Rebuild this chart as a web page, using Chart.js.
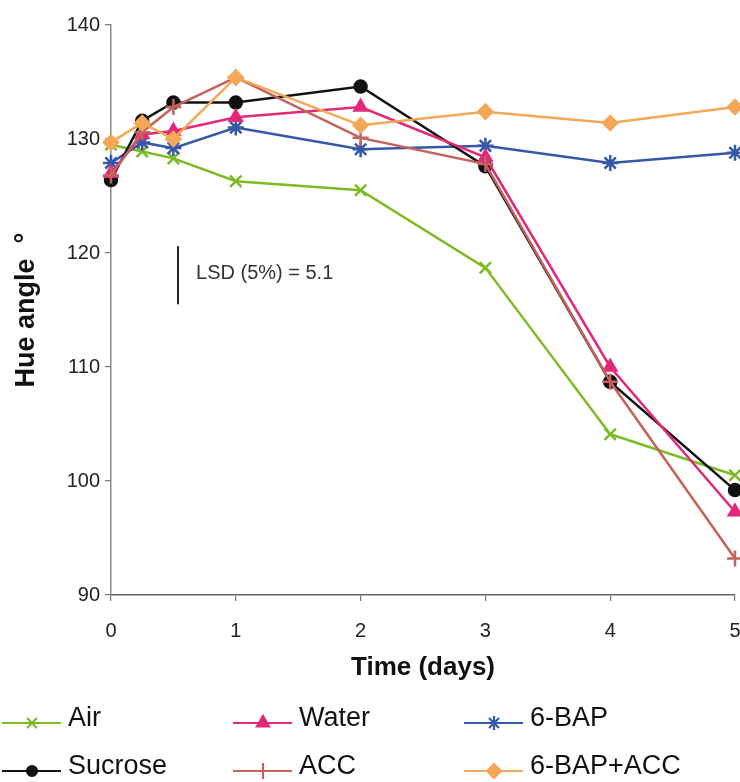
<!DOCTYPE html>
<html>
<head>
<meta charset="utf-8">
<script src="https://cdn.jsdelivr.net/npm/chart.js@4/dist/chart.umd.min.js"></script>
<style>
  html, body { margin: 0; padding: 0; background: #fff; }
  #wrap { width: 740px; height: 782px; position: relative; }
</style>
</head>
<body>
<div id="wrap"><canvas id="c" width="740" height="782"></canvas></div>
<script>
// Sampling times (days) and hue angle readings per treatment
const days = [0, 0.25, 0.5, 1, 2, 3, 4, 5];
const air = [129.5, 128.9, 128.3, 126.3, 125.5, 118.7, 104.1, 100.5];
const water = [127.0, 130.4, 130.7, 131.9, 132.8, 128.4, 110.0, 97.3];
const bap = [127.9, 129.7, 129.2, 131.0, 129.1, 129.4, 127.9, 128.8];
const sucrose = [126.4, 131.6, 133.2, 133.2, 134.6, 127.6, 108.7, 99.2];
const acc = [126.8, 130.6, 132.8, 135.4, 130.1, 127.8, 108.7, 93.2];
const bapAcc = [129.7, 131.4, 130.0, 135.4, 131.2, 132.4, 131.4, 132.8];

// LSD bar: position on the time axis, centre and length in hue units
const lsdDay = 0.537;
const lsdCentre = 118.05;
const lsdValue = 5.1;
const lsdLabel = 'LSD (5%) = 5.1';

const yTicks = [90, 100, 110, 120, 130, 140];
const xTicks = [0, 1, 2, 3, 4, 5];

const pts = arr => days.map((d, i) => ({ x: d, y: arr[i] }));

const series = [
  { key: 'bapAcc', label: '6-BAP+ACC', data: bapAcc, color: '#F4A857', style: 'rectRot', r: 7, lr: 7 },
  { key: 'acc', label: 'ACC', data: acc, color: '#C4635B', style: 'cross', r: 8, lr: 8 },
  { key: 'water', label: 'Water', data: water, color: '#E2287A', style: 'triangle', r: 7, lr: 7 },
  { key: 'sucrose', label: 'Sucrose', data: sucrose, color: '#111111', style: 'circle', r: 6, lr: 5 },
  { key: 'bap', label: '6-BAP', data: bap, color: '#3558A8', style: 'star', r: 8, lr: 7 },
  { key: 'air', label: 'Air', data: air, color: '#7CBB22', style: 'crossRot', r: 8, lr: 7 }
];

const datasets = series.map(s => ({
  label: s.label,
  data: pts(s.data),
  borderColor: s.color,
  backgroundColor: s.color,
  borderWidth: 2.5,
  pointStyle: s.style,
  pointRadius: s.r,
  pointBorderWidth: 2.5,
  pointBackgroundColor: s.color,
  pointBorderColor: s.color,
  tension: 0,
  clip: 10
}));

datasets.push({
  label: 'LSD',
  data: [{ x: lsdDay, y: lsdCentre - lsdValue / 2 }, { x: lsdDay, y: lsdCentre + lsdValue / 2 }],
  borderColor: '#222',
  borderWidth: 2,
  pointRadius: 0,
  tension: 0
});

// Legend layout: two rows of three entries under the axis
const legendOrder = ['air', 'water', 'bap', 'sucrose', 'acc', 'bapAcc'];
const legendCols = [2, 233, 464];
const legendRows = [723, 771];

const extras = {
  id: 'extras',
  afterDraw(chart) {
    const ctx = chart.ctx;
    const xs = chart.scales.x, ys = chart.scales.y;
    // LSD caption
    ctx.save();
    ctx.fillStyle = '#333';
    ctx.font = '20px "Liberation Sans", Arial, sans-serif';
    ctx.textBaseline = 'middle';
    ctx.textAlign = 'left';
    ctx.fillText(lsdLabel, xs.getPixelForValue(lsdDay) + 18, ys.getPixelForValue(lsdCentre) - 2);
    ctx.restore();

    // legend entries
    legendOrder.forEach((key, i) => {
      const s = series.find(v => v.key === key);
      const x0 = legendCols[i % 3];
      const y = legendRows[Math.floor(i / 3)];
      ctx.save();
      ctx.strokeStyle = s.color;
      ctx.fillStyle = s.color;
      ctx.lineWidth = 2.2;
      ctx.beginPath();
      ctx.moveTo(x0, y);
      ctx.lineTo(x0 + 59, y);
      ctx.stroke();
      Chart.helpers.drawPoint(ctx, { pointStyle: s.style, radius: s.lr, rotation: 0, borderWidth: 2.2 }, x0 + 30, y);
      ctx.fillStyle = '#111';
      ctx.font = '27px "Liberation Sans", Arial, sans-serif';
      ctx.textBaseline = 'middle';
      ctx.textAlign = 'left';
      ctx.fillText(s.label, x0 + 66, y - 4);
      ctx.restore();
    });
  }
};

new Chart(document.getElementById('c'), {
  type: 'line',
  data: { datasets },
  options: {
    responsive: false,
    animation: false,
    layout: { autoPadding: false, padding: { top: 25, right: 5, left: 0, bottom: 0 } },
    plugins: { legend: { display: false }, tooltip: { enabled: false } },
    scales: {
      x: {
        type: 'linear',
        min: 0, max: 5,
        afterBuildTicks: sc => { sc.ticks = xTicks.map(v => ({ value: v })); },
        afterFit: sc => { sc.height = 187; sc.paddingLeft = 0; sc.paddingRight = 0; },
        ticks: {
          color: '#222',
          font: { size: 20, family: '"Liberation Sans", Arial, sans-serif' },
          padding: 18,
          maxRotation: 0
        },
        grid: { drawOnChartArea: false, color: '#777', tickLength: 6, lineWidth: 1.2 },
        border: { color: '#666', width: 1.5 },
        title: {
          display: true,
          text: 'Time (days)',
          color: '#111',
          font: { size: 26, weight: 'bold', family: '"Liberation Sans", Arial, sans-serif' },
          padding: { top: 4, bottom: 99 }
        }
      },
      y: {
        min: 90, max: 140,
        afterBuildTicks: sc => { sc.ticks = yTicks.map(v => ({ value: v })); },
        afterFit: sc => { sc.width = 111; },
        ticks: {
          color: '#222',
          font: { size: 20, family: '"Liberation Sans", Arial, sans-serif' },
          padding: 5
        },
        grid: { drawOnChartArea: false, color: '#777', tickLength: 6, lineWidth: 1.2 },
        border: { color: '#888', width: 1.5 },
        title: {
          display: true,
          text: 'Hue angle  °',
          color: '#111',
          font: { size: 27, weight: 'bold', family: '"Liberation Sans", Arial, sans-serif' },
          padding: { top: 10, bottom: 0 }
        }
      }
    }
  },
  plugins: [extras]
});
</script>
</body>
</html>
